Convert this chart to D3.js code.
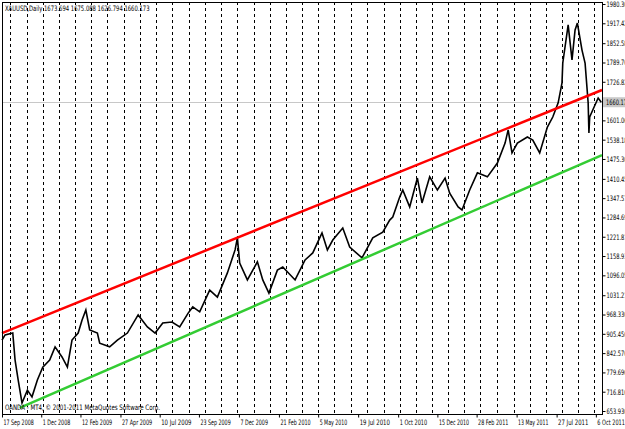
<!DOCTYPE html>
<html><head><meta charset="utf-8">
<script src="https://cdn.jsdelivr.net/npm/d3@7"></script>
<style>
body{margin:0;background:#fff;}
text{font-family:"DejaVu Sans",Arial,sans-serif;font-size:7.5px;fill:#000;}
</style></head><body>
<script>
// trading-day index and close price
var barDay = [0,4,14,17,21,26,33,39,46,53,62,69,78,85,91,99,104,109,114,124,127,140,150,163,177,189,199,209,221,231,242,248,257,270,280,293,303,306,309,319,332,339,347,358,365,381,394,404,416,423,430,443,452,468,482,495,504,508,517,521,530,540,546,556,566,576,582,593,598,608,618,631,644,654,658,663,670,683,690,699,709,716,723,728,729,736,741,745,748,754,758,762,763,764,768,775,779];
var barClose = [885,902,908,820,755,680,722,700,755,797,820,863,830,797,885,908,950,983,918,908,875,863,885,908,967,928,908,941,944,928,973,993,977,1048,1025,1104,1179,1218,1136,1081,1140,1081,1038,1113,1123,1081,1146,1169,1234,1179,1211,1250,1188,1153,1218,1237,1276,1286,1351,1374,1319,1413,1332,1417,1374,1413,1364,1319,1309,1374,1430,1417,1462,1527,1570,1495,1527,1547,1537,1495,1579,1612,1658,1723,1788,1912,1798,1896,1918,1830,1788,1658,1560,1612,1635,1674,1660];

var tickDays = [0,51,102,154,205,256,308,360,411,463,515,566,617,669,721,772];
var tickLabels = ["17 Sep 2008","1 Dec 2008","12 Feb 2009","27 Apr 2009","10 Jul 2009","23 Sep 2009","7 Dec 2009","21 Feb 2010","5 May 2010","19 Jul 2010","1 Oct 2010","15 Dec 2010","28 Feb 2011","13 May 2011","27 Jul 2011","6 Oct 2011"];
// month separators (trading-day index of each month start)
var monthDays = [10,32,53,74,95,116,137,158,179,200,221,243,264,285,306,327,348,369,390,411,432,454,475,496,517,538,559,580,601,622,643,665,686,707,728,749,770];
var priceLabels = [1980.30,1917.42,1852.58,1789.70,1726.82,1601.06,1538.18,1475.30,1410.45,1347.57,1284.69,1221.81,1158.93,1096.05,1031.21,968.330,905.450,842.570,779.690,716.810,653.930];
var lastPrice = 1660.17;

// channel lines: [day, price] endpoints
var redLine = [[0, 908], [780, 1700]];
var greenLine = [[23, 664], [780, 1488]];

var W = 625, H = 429;
var plot = {left: 2, right: 602, top: 2, bottom: 414};

var svg = d3.select("body").append("svg").attr("width", W).attr("height", H);

var x = d3.scaleLinear().domain([0, 780]).range([plot.left, plot.right]);
var y = d3.scaleLinear().domain([653.93, 1980.30]).range([411, 4]);

// squeeze text to the narrow MT4 font width
function fit(sel, perChar) {
  sel.attr("lengthAdjust", "spacingAndGlyphs")
    .attr("textLength", function () { return this.textContent.length * perChar; });
}

svg.append("g").selectAll("line").data(monthDays).enter().append("line")
  .attr("x1", function (d) { return Math.round(x(d)) + 0.5; })
  .attr("x2", function (d) { return Math.round(x(d)) + 0.5; })
  .attr("y1", plot.top).attr("y2", plot.bottom)
  .attr("stroke", "#000").attr("stroke-dasharray", "3,3").attr("stroke-width", 1);

// last price line
svg.append("line").attr("x1", plot.left).attr("x2", plot.right)
  .attr("y1", Math.round(y(lastPrice)) + 0.5).attr("y2", Math.round(y(lastPrice)) + 0.5)
  .attr("stroke", "#c8c8c8");

// price line
var line = d3.line().x(function (d, i) { return x(barDay[i]); }).y(function (d) { return y(d); });
svg.append("path").datum(barClose).attr("d", line)
  .attr("fill", "none").attr("stroke", "#000").attr("stroke-width", 1.6);

// channel
[[redLine, "#ff0000"], [greenLine, "#33cc33"]].forEach(function (c) {
  svg.append("line")
    .attr("x1", x(c[0][0][0])).attr("y1", y(c[0][0][1]))
    .attr("x2", x(c[0][1][0])).attr("y2", y(c[0][1][1]))
    .attr("stroke", c[1]).attr("stroke-width", 2.5);
});

// frame
svg.append("rect").attr("x", plot.left + 0.5).attr("y", plot.top + 0.5)
  .attr("width", plot.right - plot.left).attr("height", plot.bottom - plot.top)
  .attr("fill", "none").attr("stroke", "#000");

// right axis
var yAxis = svg.append("g").attr("transform", "translate(" + (plot.right + 0.5) + ",0)")
  .call(d3.axisRight(y).tickValues(priceLabels).tickSize(3).tickPadding(1)
    .tickFormat(function (d) { return d >= 1000 ? d.toFixed(2) : d.toFixed(3); }));
yAxis.select(".domain").remove();
yAxis.selectAll("text").style("font-size", "7.5px").call(fit, 3.0);

// last price label
svg.append("rect").attr("x", plot.right + 1).attr("y", y(lastPrice) - 5).attr("width", 22).attr("height", 10).attr("fill", "#c8c8c8");
svg.append("text").attr("x", plot.right + 4).attr("y", y(lastPrice) + 3).text(lastPrice.toFixed(2)).call(fit, 3.0);

// bottom axis
var xAxis = svg.append("g").attr("transform", "translate(0," + (plot.bottom + 0.5) + ")")
  .call(d3.axisBottom(x).tickValues(tickDays).tickSize(3).tickPadding(2)
    .tickFormat(function (d, i) { return tickLabels[i]; }));
xAxis.select(".domain").remove();
xAxis.selectAll("text").attr("text-anchor", "start").attr("dx", 1).style("font-size", "7.5px").call(fit, 2.75);

svg.append("text").attr("x", 5).attr("y", 11).text("XAUUSD,Daily  1673.694 1675.088 1626.794 1660.173").call(fit, 2.95);
svg.append("text").attr("x", 5).attr("y", 410).text("OANDA - MT4, © 2001-2011 MetaQuotes Software Corp.").call(fit, 3.1);
</script>
</body></html>
